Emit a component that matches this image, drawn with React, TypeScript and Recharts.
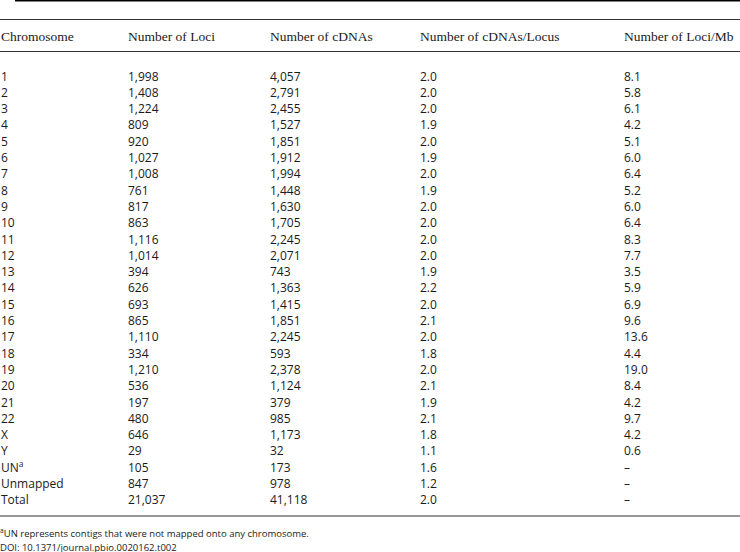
import { ReferenceLine, Scatter, ScatterChart, XAxis, YAxis } from "recharts";

const headers = [
  "Chromosome",
  "Number of Loci",
  "Number of cDNAs",
  "Number of cDNAs/Locus",
  "Number of Loci/Mb",
];

const chromosomes = [
  "1", "2", "3", "4", "5", "6", "7", "8", "9", "10", "11", "12", "13", "14",
  "15", "16", "17", "18", "19", "20", "21", "22", "X", "Y", "UN", "Unmapped", "Total",
];

const loci = [
  1998, 1408, 1224, 809, 920, 1027, 1008, 761, 817, 863, 1116, 1014, 394, 626,
  693, 865, 1110, 334, 1210, 536, 197, 480, 646, 29, 105, 847, 21037,
];

const cdnas = [
  4057, 2791, 2455, 1527, 1851, 1912, 1994, 1448, 1630, 1705, 2245, 2071, 743, 1363,
  1415, 1851, 2245, 593, 2378, 1124, 379, 985, 1173, 32, 173, 978, 41118,
];

const cdnasPerLocus = [
  2.0, 2.0, 2.0, 1.9, 2.0, 1.9, 2.0, 1.9, 2.0, 2.0, 2.0, 2.0, 1.9, 2.2,
  2.0, 2.1, 2.0, 1.8, 2.0, 2.1, 1.9, 2.1, 1.8, 1.1, 1.6, 1.2, 2.0,
];

const lociPerMb: (number | null)[] = [
  8.1, 5.8, 6.1, 4.2, 5.1, 6.0, 6.4, 5.2, 6.0, 6.4, 8.3, 7.7, 3.5, 5.9,
  6.9, 9.6, 13.6, 4.4, 19.0, 8.4, 4.2, 9.7, 4.2, 0.6, null, null, null,
];

const footnotes = [
  "UN represents contigs that were not mapped onto any chromosome.",
  "DOI: 10.1371/journal.pbio.0020162.t002",
];

// layout (pixels / row units)
const W = 740;
const H = 552;
const colX = [1, 128, 270, 420, 624];
const ROW_PX = 16.3;
const FIRST_ROW_PX = 75.5;
const yMin = -FIRST_ROW_PX / ROW_PX;
const yMax = yMin + H / ROW_PX;
const pxToRow = (px: number) => (px - FIRST_ROW_PX) / ROW_PX;

const fmtInt = new Intl.NumberFormat("en-US");
const fmtDash = (v: number | null) => (v == null ? "\u2013" : v.toFixed(1));

type Cell = { x: number; row: number; text: string; sup?: string; supFirst?: boolean };

const headerCells: Cell[] = headers.map((h, i) => ({ x: colX[i], row: pxToRow(36), text: h }));

const bodyCells: Cell[] = chromosomes.flatMap((c, r) => [
  { x: colX[0], row: r, text: c, sup: c === "UN" ? "a" : undefined },
  { x: colX[1], row: r, text: fmtInt.format(loci[r]) },
  { x: colX[2], row: r, text: fmtInt.format(cdnas[r]) },
  { x: colX[3], row: r, text: cdnasPerLocus[r].toFixed(1) },
  { x: colX[4], row: r, text: fmtDash(lociPerMb[r]) },
]);

const footCells: Cell[] = footnotes.map((t, i) => ({
  x: 0,
  row: pxToRow(533 + i * 13.5),
  text: t,
  sup: i === 0 ? "a" : undefined,
  supFirst: true,
}));

const textColor = "#1a1a1a";

function makeShape(family: string, size: number) {
  return (props: any) => {
    const { cx, cy, payload } = props;
    const p = payload as Cell;
    return (
      <text
        x={cx}
        y={cy}
        dominantBaseline="central"
        fontFamily={family}
        fontSize={size}
        fill={textColor}
      >
        {p.sup && p.supFirst ? (
          <tspan fontSize={size * 0.7} dy={-3.5}>
            {p.sup}
          </tspan>
        ) : null}
        <tspan dy={p.sup && p.supFirst ? 3.5 : 0}>{p.text}</tspan>
        {p.sup && !p.supFirst ? (
          <tspan fontSize={size * 0.7} dy={-4}>
            {p.sup}
          </tspan>
        ) : null}
      </text>
    );
  };
}

export default function App() {
  return (
    <div style={{ position: "absolute", left: 0, top: 0, background: "#fff" }}>
      <ScatterChart width={W} height={H} margin={{ top: 0, right: 0, bottom: 0, left: 0 }}>
        <XAxis type="number" dataKey="x" domain={[0, W]} hide />
        <YAxis type="number" dataKey="row" domain={[yMin, yMax]} reversed hide />
        <ReferenceLine
          segment={[
            { x: 15, y: pxToRow(0.7) },
            { x: W, y: pxToRow(0.7) },
          ]}
          stroke="#000"
          strokeWidth={1.5}
        />
        <ReferenceLine y={pxToRow(19.5)} stroke="#333" strokeWidth={1} />
        <ReferenceLine y={pxToRow(51.5)} stroke="#333" strokeWidth={1} />
        <ReferenceLine y={pxToRow(516)} stroke="#333" strokeWidth={1} />
        <Scatter
          data={headerCells}
          isAnimationActive={false}
          shape={makeShape("'Liberation Serif', serif", 13.5)}
        />
        <Scatter
          data={bodyCells}
          isAnimationActive={false}
          shape={makeShape("'Open Sans', sans-serif", 12)}
        />
        <Scatter
          data={footCells}
          isAnimationActive={false}
          shape={makeShape("'Open Sans', sans-serif", 9.5)}
        />
      </ScatterChart>
    </div>
  );
}
